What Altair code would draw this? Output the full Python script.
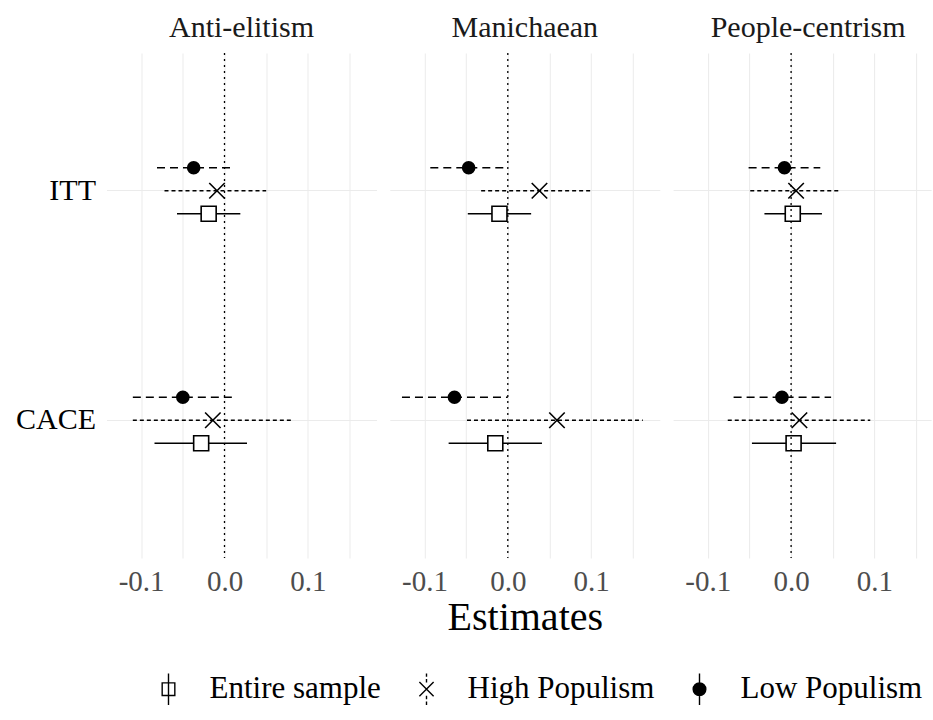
import altair as alt
import pandas as pd

# ---------------- data ----------------
outcomes = ["Anti-elitism", "Manichaean", "People-centrism"]
estimands = ["ITT", "CACE"]
groups = ["Entire sample", "High Populism", "Low Populism"]

# order: outcome -> estimand -> group (Entire sample, High Populism, Low Populism)
estimate = [-0.019, -0.009, -0.037,
            -0.028, -0.014, -0.050,
            -0.010,  0.038, -0.047,
            -0.015,  0.059, -0.064,
             0.002,  0.006, -0.008,
             0.003,  0.010, -0.011]
lower = [-0.057, -0.072, -0.081,
         -0.084, -0.110, -0.110,
         -0.048, -0.032, -0.093,
         -0.071, -0.049, -0.127,
         -0.032, -0.049, -0.051,
         -0.047, -0.076, -0.069]
upper = [0.019, 0.050, 0.008,
         0.027, 0.083, 0.011,
         0.028, 0.102, -0.003,
         0.041, 0.162, 0.000,
         0.037, 0.059, 0.035,
         0.054, 0.095, 0.048]
tick_values = [-0.1, -0.05, 0.0, 0.05, 0.1, 0.15]
tick_labels = ["-0.1", "", "0.0", "", "0.1", ""]
zero_line = [0.0]

rows = []
k = 0
for o in outcomes:
    for e in estimands:
        for g in groups:
            rows.append(dict(outcome=o, estimand=e, group=g,
                             est=estimate[k], lo=lower[k], hi=upper[k]))
            k += 1
df = pd.DataFrame(rows)
zero_df = pd.DataFrame({"v": zero_line})

# ---------------- styles ----------------
FONT = "Liberation Serif"
X_MIN, X_MAX = -0.1416, 0.1824
PANEL_W, PANEL_W3, PANEL_H = 270, 258, 505
X_MAX3 = X_MIN + (X_MAX - X_MIN) * PANEL_W3 / PANEL_W
GRID = "#EBEBEB"

dash = {"Entire sample": None, "High Populism": [4, 3], "Low Populism": [8, 5]}
offset_order = ["Low Populism", "High Populism", "Entire sample"]
legend_paths = [
    "M-0.4,-0.4H0.4V0.4H-0.4Z M-0.4,-0.4V0.4H0.4V-0.4Z M0,-1V1",
    "M-0.45,-0.45L0.45,0.45 M-0.45,0.45L0.45,-0.45 "
    "M0,-1V-0.78 M0,-0.64V-0.42 M0,0.42V0.64 M0,0.78V1",
    "M0.4,0A0.4,0.4,0,1,1,-0.4,0A0.4,0.4,0,1,1,0.4,0Z M0,-1V1",
]

label_expr = ("[" + ",".join("'%s'" % s for s in tick_labels) + "][indexof(["
              + ",".join(repr(v) for v in tick_values) + "], datum.value)]")


def make_panel(i, outcome):
    sub = df[df.outcome == outcome]
    xmax = X_MAX if i < 2 else X_MAX3
    w = PANEL_W if i < 2 else PANEL_W3
    xscale = alt.Scale(domain=[X_MIN, xmax], nice=False, zero=False)
    xaxis = alt.Axis(values=tick_values, labelExpr=label_expr,
                     title="Estimates" if i == 1 else None,
                     grid=True, gridColor=GRID, gridWidth=1,
                     ticks=False, domain=False,
                     labelFont=FONT, labelFontSize=29, labelColor="#4D4D4D",
                     labelPadding=9, labelFlush=False,
                     titleFont=FONT, titleFontSize=40, titleFontWeight="normal",
                     titleColor="black", titlePadding=1)
    yscale = alt.Scale(domain=estimands, paddingInner=0.6993, paddingOuter=0.4497)
    yextra = {} if i == 0 else dict(minExtent=0, maxExtent=0)
    yaxis = alt.Axis(title=None, ticks=False, domain=False, labels=(i == 0),
                     grid=True, gridColor=GRID, gridWidth=1,
                     labelFont=FONT, labelFontSize=30, labelColor="black",
                     labelPadding=11, **yextra)
    Y = alt.Y("estimand:N", scale=yscale, axis=yaxis)
    YO = alt.YOffset("group:N", scale=alt.Scale(domain=offset_order,
                                                paddingInner=0, paddingOuter=0))
    base = alt.Chart(sub)
    layers = []
    for g in groups:
        kw = dict(color="black", strokeWidth=1.4)
        if dash[g]:
            kw["strokeDash"] = dash[g]
        layers.append(
            base.transform_filter(alt.datum.group == g).mark_rule(**kw).encode(
                x=alt.X("lo:Q", scale=xscale, axis=xaxis), x2="hi:Q",
                y=Y, yOffset=YO))
    XE = alt.X("est:Q", scale=xscale, axis=xaxis)
    layers.append(
        base.transform_filter(alt.datum.group == "Entire sample")
        .mark_point(shape="square", size=225, filled=True, fill="white",
                    stroke="black", strokeWidth=1.6, opacity=1)
        .encode(x=XE, y=Y, yOffset=YO))
    layers.append(
        base.transform_filter(alt.datum.group == "High Populism")
        .mark_point(shape="M-1,-1L1,1M-1,1L1,-1", size=240, filled=False,
                    stroke="black", strokeWidth=1.6, opacity=1)
        .encode(x=XE, y=Y, yOffset=YO))
    layers.append(
        base.transform_filter(alt.datum.group == "Low Populism")
        .mark_point(shape="circle", size=185, filled=True, color="black", opacity=1)
        .encode(x=XE, y=Y, yOffset=YO))
    layers.append(
        alt.Chart(zero_df).mark_rule(color="black", strokeWidth=1.3, strokeDash=[2, 4])
        .encode(x=alt.X("v:Q", scale=xscale, axis=xaxis)))
    if i == 0:
        layers.append(
            alt.Chart(sub).transform_filter("false")
            .mark_point(filled=True, fill="black", stroke="black", strokeWidth=1.4,
                        opacity=1, size=1000)
            .encode(shape=alt.Shape(
                "group:N",
                scale=alt.Scale(domain=groups, range=legend_paths),
                legend=alt.Legend(title=None, orient="none", direction="horizontal",
                                  legendX=45, legendY=619, symbolSize=1000,
                                  labelFont=FONT, labelFontSize=31, labelColor="black",
                                  labelOffset=24, columnPadding=28, labelLimit=0,
                                  symbolStrokeWidth=1.4))))
    title_kw = dict(font=FONT, fontSize=30, fontWeight="normal", color="#1A1A1A",
                    offset=9, anchor="middle")
    if i == 2:
        title_kw["dx"] = (PANEL_W - PANEL_W3) / 2
    return alt.layer(*layers).properties(
        width=w, height=PANEL_H, title=alt.Title(outcome, **title_kw))


panels = [make_panel(i, o) for i, o in enumerate(outcomes)]
chart = (
    alt.hconcat(*panels, spacing=13.3, bounds="flush")
    .properties(padding={"left": 14.5, "top": 13, "right": 0, "bottom": 5},
                background="white")
    .configure_view(stroke=None)
)
chart.save("out.html", embed_options={"renderer": "svg", "actions": False})
